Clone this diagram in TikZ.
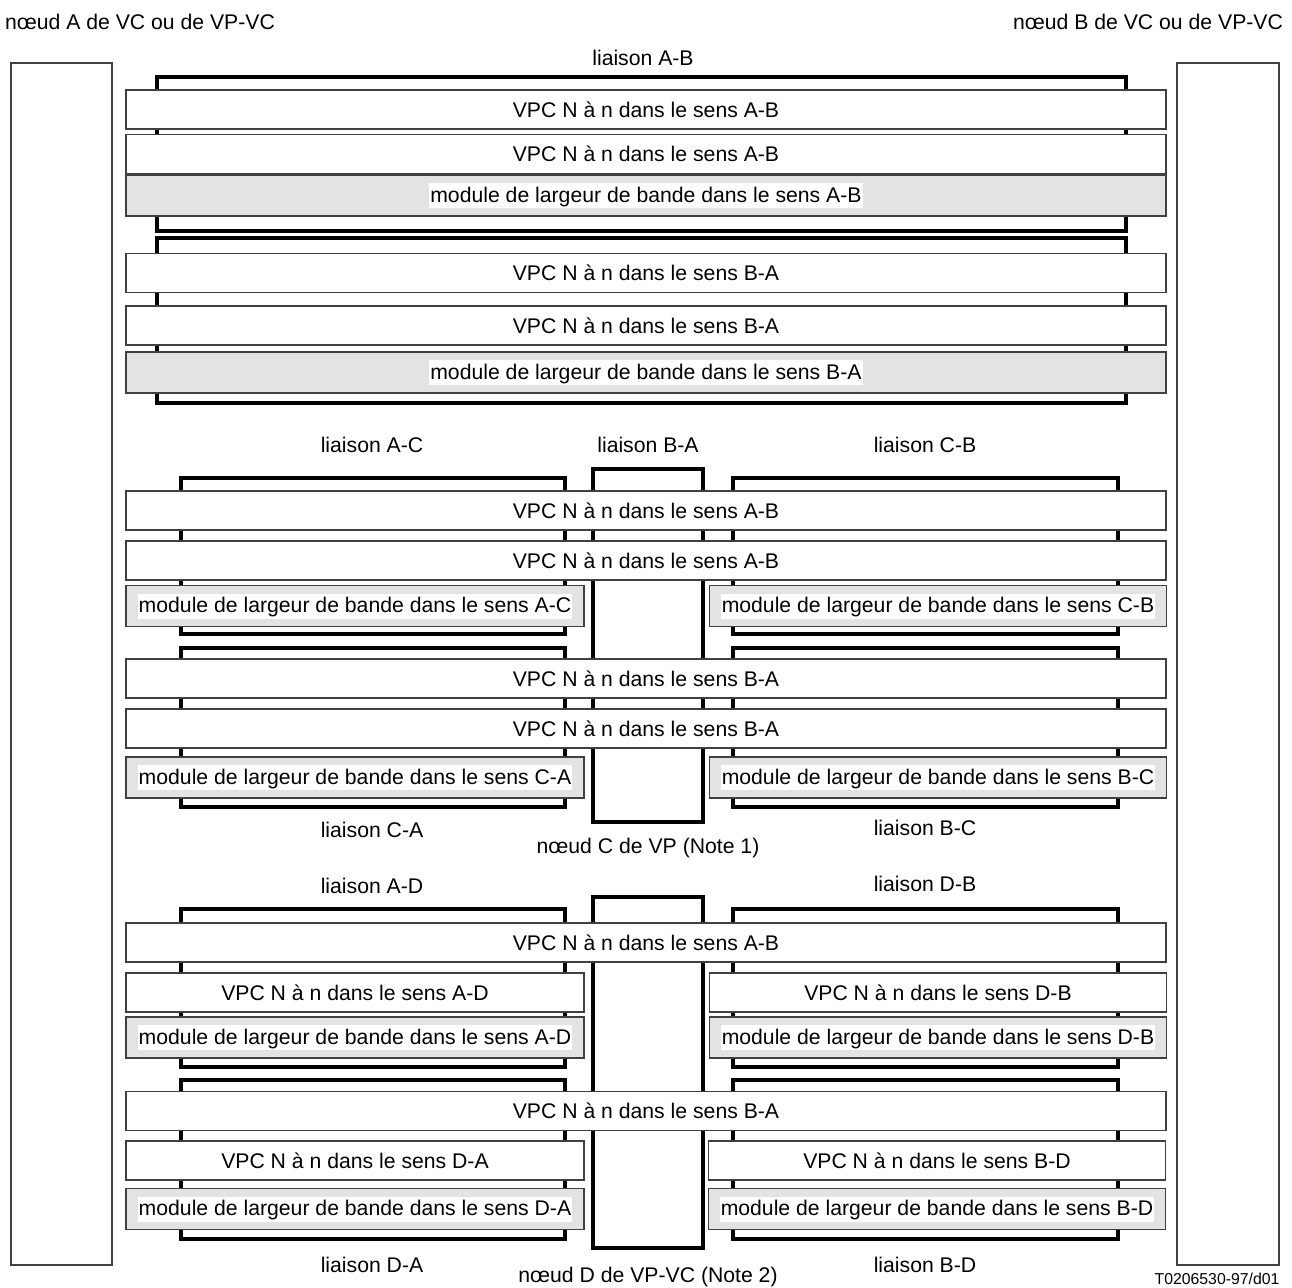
\documentclass[tikz,border=0pt]{standalone}
\usepackage{fontspec}
\setmainfont{Liberation Sans}
\definecolor{fondgris}{gray}{0.89}
\newcommand{\surblanc}[1]{{\fboxsep=1pt\colorbox{white}{\rule[-5pt]{0pt}{23pt}#1}}}

\begin{document}
\begin{tikzpicture}[x=1pt, y=-1pt, font=\fontsize{21.2}{24}\selectfont,
    vpc/.style={rectangle, draw=black!75, line width=1.5pt, fill=white,
      inner sep=0pt, minimum height=39pt},
    module/.style={vpc, fill=fondgris, minimum height=41pt},
    long/.style={minimum width=1040pt},
    gauche/.style={minimum width=458pt},
    droite/.style={minimum width=457pt},
    liaison/.style={draw, line width=4pt},
    extremite/.style={draw=black!75, line width=1.5pt}]

  \useasboundingbox (0,0) rectangle (1292,1287);

  % noeuds d'extremite
  \draw[extremite] (11,63) rectangle (112,1265);
  \draw[extremite] (1177,63) rectangle (1279,1265);
  \node (nA) at (140,22) {nœud A de VC ou de VP-VC};
  \node (nB) at (1148,22) {nœud B de VC ou de VP-VC};

  % liaison A-B
  \draw[liaison] (157,77) rectangle (1126,231);
  \draw[liaison] (157,237.5) rectangle (1126,403);
  \node (lAB) at (643,58) {liaison A-B};
  \node[vpc,long] (AB1) at (646,109.5) {VPC N à n dans le sens A-B};
  \node[vpc,long] (AB2) at (646,154) {VPC N à n dans le sens A-B};
  \node[module,long] (mAB) at (646,195.5) {\surblanc{module de largeur de bande dans le sens A-B}};
  \node[vpc,long] (BA1) at (646,273) {VPC N à n dans le sens B-A};
  \node[vpc,long] (BA2) at (646,325.5) {VPC N à n dans le sens B-A};
  \node[module,long] (mBA) at (646,372.5) {\surblanc{module de largeur de bande dans le sens B-A}};

  % noeud C
  \draw[liaison] (181,478) rectangle (565,634);
  \draw[liaison] (181,648) rectangle (565,807);
  \draw[liaison] (733,478) rectangle (1118,634);
  \draw[liaison] (733,648) rectangle (1118,807);
  \draw[liaison] (593,469) rectangle (703,822);
  \node (lAC) at (372,445) {liaison A-C};
  \node (lBAc) at (648,445) {liaison B-A};
  \node (lCB) at (925,445) {liaison C-B};
  \node[vpc,long] (cAB1) at (646,510.5) {VPC N à n dans le sens A-B};
  \node[vpc,long] (cAB2) at (646,560.5) {VPC N à n dans le sens A-B};
  \node[module,gauche] (mAC) at (355,606) {\surblanc{module de largeur de bande dans le sens A-C}};
  \node[module,droite] (mCB) at (938,606) {\surblanc{module de largeur de bande dans le sens C-B}};
  \node[vpc,long] (cBA1) at (646,678.5) {VPC N à n dans le sens B-A};
  \node[vpc,long] (cBA2) at (646,728.5) {VPC N à n dans le sens B-A};
  \node[module,gauche] (mCA) at (355,777.5) {\surblanc{module de largeur de bande dans le sens C-A}};
  \node[module,droite] (mBC) at (938,777.5) {\surblanc{module de largeur de bande dans le sens B-C}};
  \node (lCA) at (372,830) {liaison C-A};
  \node (nC) at (648,848) {nœud C de VP (Note 1)};
  \node (lBC) at (925,828) {liaison B-C};

  % noeud D
  \draw[liaison] (181,909) rectangle (565,1067);
  \draw[liaison] (181,1080) rectangle (565,1239);
  \draw[liaison] (733,909) rectangle (1118,1067);
  \draw[liaison] (733,1080) rectangle (1118,1239);
  \draw[liaison] (593,897) rectangle (703,1248);
  \node (lAD) at (372,886) {liaison A-D};
  \node (lDB) at (925,884) {liaison D-B};
  \node[vpc,long] (dAB) at (646,942.5) {VPC N à n dans le sens A-B};
  \node[vpc,gauche] (AD) at (355,992.5) {VPC N à n dans le sens A-D};
  \node[vpc,droite] (DB) at (938,992.5) {VPC N à n dans le sens D-B};
  \node[module,gauche] (mAD) at (355,1037.5) {\surblanc{module de largeur de bande dans le sens A-D}};
  \node[module,droite] (mDB) at (938,1037.5) {\surblanc{module de largeur de bande dans le sens D-B}};
  \node[vpc,long] (dBA) at (646,1111) {VPC N à n dans le sens B-A};
  \node[vpc,gauche] (DA) at (355,1160.5) {VPC N à n dans le sens D-A};
  \node[vpc,droite] (BD) at (937,1160.5) {VPC N à n dans le sens B-D};
  \node[module,gauche] (mDA) at (355,1209) {\surblanc{module de largeur de bande dans le sens D-A}};
  \node[module,droite] (mBD) at (937,1209) {\surblanc{module de largeur de bande dans le sens B-D}};
  \node (lDA) at (372,1265) {liaison D-A};
  \node (nD) at (648,1277) {nœud D de VP-VC (Note 2)};
  \node (lBD) at (925,1265) {liaison B-D};

  \node[font=\fontsize{15.8}{18}\selectfont] (ref) at (1217,1279) {T0206530-97/d01};
\end{tikzpicture}
\end{document}
